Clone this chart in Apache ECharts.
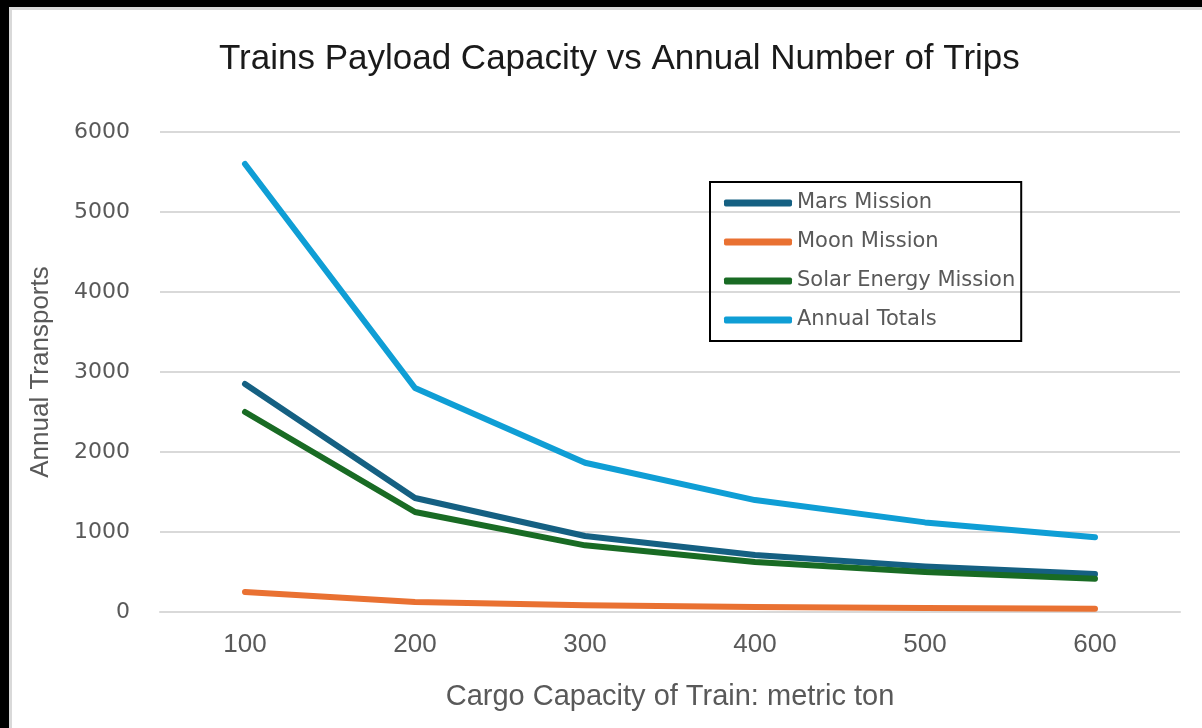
<!DOCTYPE html>
<html>
<head>
<meta charset="utf-8">
<script src="https://cdn.jsdelivr.net/npm/echarts@6/dist/echarts.min.js"></script>
<style>
  html, body { margin: 0; padding: 0; background: #000; width: 1202px; height: 728px; overflow: hidden; }
  #frame { position: absolute; left: 9px; top: 7px; right: 0; bottom: 0; background: #fff; border-left: 3px solid #d9d9d9; border-top: 3px solid #d9d9d9; }
  #chart { position: absolute; left: 0; top: 0; width: 1202px; height: 728px; }
</style>
</head>
<body>
<div id="frame"></div>
<div id="chart"></div>
<script>
// cargo capacity (metric ton)
const capacity = ['100', '200', '300', '400', '500', '600']
// annual transports per mission
const mars = [2850, 1425, 950, 712, 570, 475]
const moon = [250, 125, 83, 62, 50, 42]
const solar = [2500, 1250, 833, 625, 500, 417]
const totals = [5600, 2800, 1866, 1399, 1120, 934]

const sans = '"Liberation Sans", Arial, sans-serif'
const grey = '#595959'

function line(name, data, color) {
  return {
    name, type: 'line', data, showSymbol: false, symbol: 'none',
    lineStyle: { color, width: 6, cap: 'round', join: 'round' },
    itemStyle: { color }
  }
}

const chart = echarts.init(document.getElementById('chart'))
chart.setOption({
  animation: false,
  title: {
    text: 'Trains Payload Capacity vs Annual Number of Trips',
    left: 214, top: 37,
    textStyle: { fontFamily: sans, fontSize: 35, fontWeight: 'normal', color: '#1a1a1a' }
  },
  legend: {
    orient: 'vertical', left: 710, top: 182,
    borderColor: '#000', borderWidth: 2,
    padding: [9, 6, 9, 14],
    itemWidth: 68, itemHeight: 7, itemGap: 15, icon: 'roundRect',
    textStyle: { fontFamily: 'DejaVu Sans', fontSize: 21, color: grey, lineHeight: 24 },
    data: ['Mars Mission', 'Moon Mission', 'Solar Energy Mission', 'Annual Totals']
  },
  grid: { left: 160, right: 22, top: 132, bottom: 116 },
  xAxis: {
    type: 'category', data: capacity,
    name: 'Cargo Capacity of Train: metric ton', nameLocation: 'middle', nameGap: 70,
    nameTextStyle: { fontFamily: sans, fontSize: 29, color: grey },
    axisLine: { lineStyle: { color: '#d9d9d9', width: 2 } },
    axisTick: { show: false },
    axisLabel: { fontFamily: sans, fontSize: 26, color: grey, margin: 20 }
  },
  yAxis: {
    type: 'value', min: 0, max: 6000, interval: 1000,
    name: 'Annual Transports', nameLocation: 'middle', nameGap: 106,
    nameTextStyle: { fontFamily: sans, fontSize: 26, color: grey },
    axisLine: { show: false }, axisTick: { show: false },
    axisLabel: { fontFamily: 'DejaVu Sans', fontSize: 22, color: grey, margin: 30, formatter: v => String(v) },
    splitLine: { lineStyle: { color: '#d9d9d9', width: 2 } }
  },
  series: [
    line('Mars Mission', mars, '#156082'),
    line('Moon Mission', moon, '#E97132'),
    line('Solar Energy Mission', solar, '#196B24'),
    line('Annual Totals', totals, '#0F9ED5')
  ]
})
</script>
</body>
</html>
